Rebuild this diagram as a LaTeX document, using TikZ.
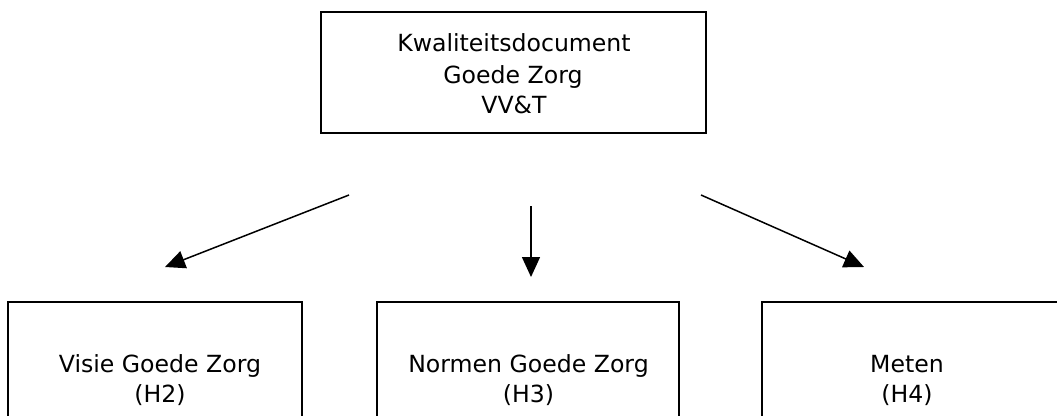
\documentclass[tikz,border=0pt]{standalone}
\usepackage{fontspec}
\setmainfont{DejaVu Sans}
\usetikzlibrary{arrows.meta}
\begin{document}
\begin{tikzpicture}[x=1pt,y=-1pt,
  box/.style={draw, line width=1.5pt, inner sep=0pt},
  lbl/.style={anchor=base, inner sep=0pt, font=\fontsize{23.6}{31}\selectfont},
  arr/.style={line width=1.5pt, -{Triangle[length=20pt,width=18pt]}}]
\useasboundingbox (0,0) rectangle (1057,415);
\clip (0,0) rectangle (1057,415);
% top box
\node[box, minimum width=385pt, minimum height=121pt] (top) at (513.5,72.5) {};
\node[lbl] (t1) at (514,51.7) {Kwaliteitsdocument};
\node[lbl] (t2) at (513,83) {Goede Zorg};
\node[lbl] (t3) at (514,113) {VV\&T};
% bottom boxes
\node[box, minimum width=294pt, minimum height=158pt] (b1) at (155,381) {};
\node[box, minimum width=302pt, minimum height=158pt] (b2) at (528,381) {};
\node[box, minimum width=300pt, minimum height=158pt] (b3) at (912,381) {};
\node[lbl] (b1a) at (160,372) {Visie Goede Zorg};
\node[lbl] (b1b) at (160,402) {(H2)};
\node[lbl] (b2a) at (528.5,372) {Normen Goede Zorg};
\node[lbl] (b2b) at (528.5,402) {(H3)};
\node[lbl] (b3a) at (907,372) {Meten};
\node[lbl] (b3b) at (907,402) {(H4)};
% arrows
\coordinate (s1) at (349,195);
\coordinate (e1) at (165,267);
\coordinate (s2) at (531,206);
\coordinate (e2) at (531,277);
\coordinate (s3) at (701,195);
\coordinate (e3) at (864,267);
\draw[arr] (s1) -- (e1);
\draw[arr] (s2) -- (e2);
\draw[arr] (s3) -- (e3);
\end{tikzpicture}
\end{document}
